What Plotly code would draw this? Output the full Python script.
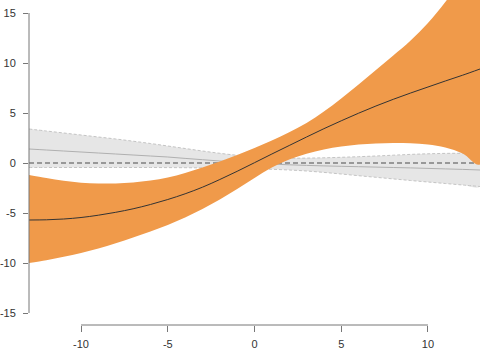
import plotly.graph_objects as go

# x positions where the curves were read
xs = [-13, -12, -11, -10, -9, -8, -7, -6, -5, -4, -3, -2, -1, 0,
      1, 2, 3, 4, 5, 6, 7, 8, 9, 10, 11, 12, 13]

# orange band (estimate and confidence bounds)
fit_mid = [-5.7, -5.68, -5.6, -5.45, -5.22, -4.93, -4.58, -4.15, -3.65, -3.08, -2.42, -1.65, -0.83, 0.03,
           0.9, 1.75, 2.6, 3.43, 4.22, 4.98, 5.7, 6.37, 7.0, 7.6, 8.2, 8.78, 9.4]
fit_upper = [-1.2, -1.5, -1.78, -1.97, -2.05, -2.05, -1.95, -1.75, -1.45, -1.0, -0.45, 0.15, 0.8, 1.5,
             2.25, 3.08, 4.0, 5.15, 6.45, 7.85, 9.3, 10.75, 12.25, 14.0, 16.1, 18.5, 21.1]
fit_lower = [-10.0, -9.72, -9.38, -9.0, -8.55, -8.03, -7.45, -6.85, -6.2, -5.45, -4.6, -3.65, -2.6, -1.5,
             -0.45, 0.35, 0.92, 1.35, 1.65, 1.85, 1.95, 2.0, 1.97, 1.85, 1.55, 0.95, -0.15]

# grey reference band
ref_mid = [1.4, 1.3, 1.2, 1.1, 1.0, 0.9, 0.8, 0.7, 0.6, 0.46, 0.33, 0.2, 0.08, -0.02,
           -0.11, -0.18, -0.24, -0.29, -0.33, -0.37, -0.41, -0.45, -0.49, -0.54, -0.59, -0.64, -0.7]
ref_upper = [3.4, 3.2, 3.0, 2.8, 2.6, 2.4, 2.18, 1.95, 1.7, 1.45, 1.2, 0.97, 0.77, 0.62,
             0.52, 0.48, 0.49, 0.52, 0.57, 0.63, 0.7, 0.78, 0.86, 0.92, 0.96, 0.97, 0.97]
ref_lower = [-0.45, -0.45, -0.45, -0.45, -0.45, -0.45, -0.45, -0.45, -0.46, -0.47, -0.49, -0.52, -0.55, -0.58,
             -0.63, -0.7, -0.8, -0.94, -1.1, -1.27, -1.43, -1.59, -1.75, -1.9, -2.05, -2.2, -2.35]

x_ticks = [-10, -5, 0, 5, 10]
x_tick_labels = ["-10", "-5", "0", "5", "10"]
y_ticks = [-15, -10, -5, 0, 5, 10, 15]
y_tick_labels = ["-15", "-10", "-5", "0", "5", "10", "15"]

ORANGE = "rgb(240,154,74)"
AXIS = "#777777"

fig = go.Figure()

# grey band fill
fig.add_trace(go.Scatter(
    x=xs + xs[::-1], y=ref_upper + ref_lower[::-1],
    fill="toself", fillcolor="#e6e6e6", mode="lines",
    line=dict(width=0, color="rgba(0,0,0,0)", shape="spline"),
    hoverinfo="skip", showlegend=False))
for arr in (ref_upper, ref_lower):
    fig.add_trace(go.Scatter(
        x=xs, y=arr, mode="lines",
        line=dict(color="#c4c4c4", width=1, dash="3px,2px", shape="spline"),
        hoverinfo="skip", showlegend=False))
fig.add_trace(go.Scatter(
    x=xs, y=ref_mid, mode="lines",
    line=dict(color="#b0b0b0", width=1, shape="spline"),
    hoverinfo="skip", showlegend=False))

# zero reference line
fig.add_trace(go.Scatter(
    x=[xs[0], xs[-1]], y=[0, 0], mode="lines",
    line=dict(color="#4a4a4a", width=1, dash="5px,3px"),
    hoverinfo="skip", showlegend=False))

# orange band
fig.add_trace(go.Scatter(
    x=xs + xs[::-1], y=fit_upper + fit_lower[::-1],
    fill="toself", fillcolor=ORANGE, mode="lines",
    line=dict(width=0, color="rgba(0,0,0,0)", shape="spline"),
    hoverinfo="skip", showlegend=False))
fig.add_trace(go.Scatter(
    x=xs, y=fit_mid, mode="lines",
    line=dict(color="#333333", width=1, shape="spline"),
    hoverinfo="skip", showlegend=False))

# R-style axis lines spanning first to last tick
fig.add_shape(type="line", xref="paper", yref="y", x0=0, x1=0,
              y0=y_ticks[0], y1=y_ticks[-1], line=dict(color=AXIS, width=1))
fig.add_shape(type="line", xref="x", yref="paper", x0=x_ticks[0], x1=x_ticks[-1],
              y0=0, y1=0, line=dict(color=AXIS, width=1))

tick_font = dict(family="Liberation Sans, Arial, sans-serif", size=11, color="#333333")
fig.update_layout(
    template="none",
    width=480, height=355,
    margin=dict(l=29, r=0, t=0, b=30),
    paper_bgcolor="white", plot_bgcolor="white",
    font=dict(family="Liberation Sans, Arial, sans-serif", size=11, color="#333333"),
    xaxis=dict(range=[-13, 13], tickvals=x_ticks, ticktext=x_tick_labels,
               ticks="outside", ticklen=6,
               tickcolor=AXIS, showgrid=False, zeroline=False, showline=False,
               tickfont=tick_font, ticklabelstandoff=3),
    yaxis=dict(range=[-16.2, 16.3], tickvals=y_ticks, ticktext=y_tick_labels,
               ticks="outside", ticklen=5,
               tickcolor=AXIS, showgrid=False, zeroline=False, showline=False,
               tickfont=tick_font, ticklabelstandoff=5),
)

fig.write_html("out.html", config={"displayModeBar": False})
